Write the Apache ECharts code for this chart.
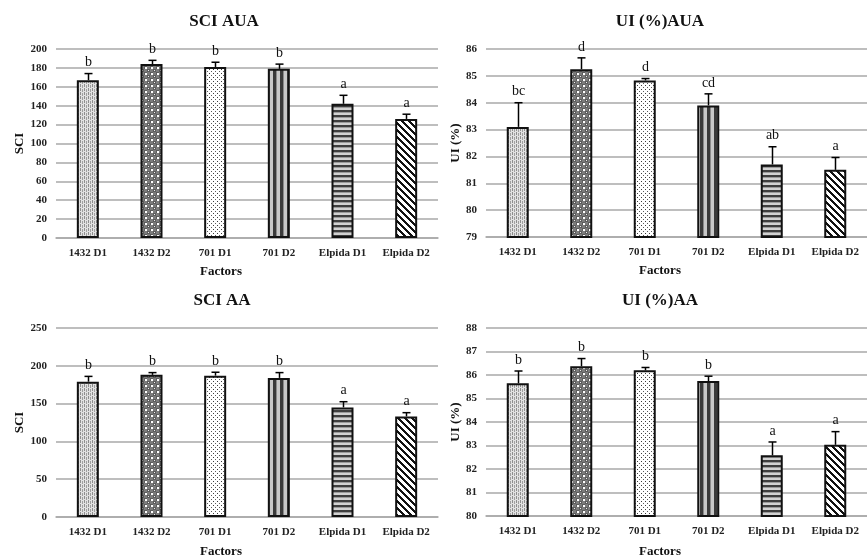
<!DOCTYPE html>
<html>
<head>
<meta charset="utf-8">
<script src="https://cdn.jsdelivr.net/npm/echarts@6/dist/echarts.min.js"></script>
<style>
  html, body { margin: 0; padding: 0; background: #fff; }
  #chart { width: 867px; height: 555px; }
</style>
</head>
<body>
<div id="chart"></div>
<script>
// Treatments (cultivar x dose)
const categories = ['1432 D1', '1432 D2', '701 D1', '701 D2', 'Elpida D1', 'Elpida D2'];

// SCI, AUA
const sciAuaMean = [167, 184, 181, 179, 142, 126];
const sciAuaErr  = [7, 4, 5, 5, 9, 5];
const sciAuaSig  = ['b', 'b', 'b', 'b', 'a', 'a'];

// UI (%), AUA
const uiAuaMean = [83.1, 85.25, 84.83, 83.9, 81.7, 81.5];
const uiAuaErr  = [0.9, 0.42, 0.07, 0.43, 0.66, 0.46];
const uiAuaSig  = ['bc', 'd', 'd', 'cd', 'ab', 'a'];

// SCI, AA
const sciAaMean = [179, 188, 187, 184, 145, 133];
const sciAaErr  = [7, 3, 4.5, 7, 7.5, 5];
const sciAaSig  = ['b', 'b', 'b', 'b', 'a', 'a'];

// UI (%), AA
const uiAaMean = [85.65, 86.37, 86.2, 85.74, 82.58, 83.03];
const uiAaErr  = [0.52, 0.33, 0.12, 0.21, 0.57, 0.56];
const uiAaSig  = ['b', 'b', 'b', 'b', 'a', 'a'];

const SERIF = '"Liberation Serif", "Times New Roman", serif';
const GRID_GRAY = '#a9a9a9';

// Small repeating canvas tiles used as bar fills
function tile(w, h, draw) {
  const c = document.createElement('canvas');
  c.width = w; c.height = h;
  const g = c.getContext('2d');
  draw(g, w, h);
  return { image: c, repeat: 'repeat' };
}
function px(g, color, x, y, w, h) { g.fillStyle = color; g.fillRect(x, y, w || 1, h || 1); }

const fills = [
  // fine vertical dashes on light grey
  tile(4, 4, g => {
    px(g, '#e2e2e2', 0, 0, 4, 4);
    px(g, '#8e8e8e', 0, 0, 1, 3);
    px(g, '#a0a0a0', 2, 1, 1, 3);
  }),
  // dark grey with white dots
  tile(6, 6, g => {
    px(g, '#5c5c5c', 0, 0, 6, 6);
    px(g, '#7c7c7c', 0, 3, 3, 3);
    px(g, '#7c7c7c', 3, 0, 3, 3);
    px(g, '#ffffff', 1, 1, 2, 2);
    px(g, '#f0f0f0', 4, 4, 1, 1);
  }),
  // small black dots on white
  tile(4, 4, g => {
    px(g, '#ffffff', 0, 0, 4, 4);
    px(g, '#3a3a3a', 1, 1);
    px(g, '#5a5a5a', 3, 3);
  }),
  // wide vertical stripes
  tile(7, 2, g => {
    px(g, '#c8c8c8', 0, 0, 7, 2);
    px(g, '#3a3a3a', 0, 0, 3, 2);
    px(g, '#8a8a8a', 3, 0, 1, 2);
  }),
  // horizontal stripes
  tile(2, 5, g => {
    px(g, '#d2d2d2', 0, 0, 2, 5);
    px(g, '#3e3e3e', 0, 0, 2, 2);
    px(g, '#9a9a9a', 0, 2, 2, 1);
  }),
  // diagonal black stripes
  tile(7, 7, g => {
    px(g, '#ffffff', 0, 0, 7, 7);
    for (let y = 0; y < 7; y++) {
      for (let x = 0; x < 7; x++) {
        if (((x - y) % 7 + 7) % 7 < 3) px(g, '#111111', x, y);
      }
    }
  })
];

// Panel layout: grid boxes in pixels
const panels = [
  { left: 56,  top: 49,  width: 382, height: 189, min: 0,  max: 200, interval: 20, yName: 'SCI',    nameGap: 30,
    mean: sciAuaMean, err: sciAuaErr, sig: sciAuaSig, title: 'SCI AUA',  tx: 224, ty: 13, fx: 221, fy: 265 },
  { left: 486, top: 49,  width: 387, height: 188, min: 79, max: 86,  interval: 1,  yName: 'UI (%)', nameGap: 24,
    mean: uiAuaMean,  err: uiAuaErr,  sig: uiAuaSig,  title: 'UI (%)AUA', tx: 660, ty: 13, fx: 660, fy: 264 },
  { left: 56,  top: 328, width: 382, height: 189, min: 0,  max: 250, interval: 50, yName: 'SCI',    nameGap: 30,
    mean: sciAaMean,  err: sciAaErr,  sig: sciAaSig,  title: 'SCI AA',   tx: 222, ty: 292, fx: 221, fy: 545 },
  { left: 486, top: 328, width: 387, height: 188, min: 80, max: 88,  interval: 1,  yName: 'UI (%)', nameGap: 24,
    mean: uiAaMean,   err: uiAaErr,   sig: uiAaSig,   title: 'UI (%)AA',  tx: 660, ty: 292, fx: 660, fy: 545 }
];

const grid = [], xAxis = [], yAxis = [], series = [], title = [];

panels.forEach((p, i) => {
  grid.push({ left: p.left, top: p.top, width: p.width, height: p.height, containLabel: false });

  xAxis.push({
    type: 'category', gridIndex: i, data: categories,
    axisTick: { show: false },
    axisLine: { lineStyle: { color: GRID_GRAY, width: 1.5 } },
    axisLabel: { margin: 10, fontFamily: SERIF, fontWeight: 'bold', fontSize: 11, color: '#222', interval: 0 }
  });

  yAxis.push({
    type: 'value', gridIndex: i, min: p.min, max: p.max, interval: p.interval,
    name: p.yName, nameLocation: 'middle', nameGap: p.nameGap,
    nameTextStyle: { fontFamily: SERIF, fontWeight: 'bold', fontSize: 13, color: '#111' },
    axisLine: { show: false }, axisTick: { show: false },
    axisLabel: { margin: 9, fontFamily: SERIF, fontWeight: 'bold', fontSize: 11, color: '#222' },
    splitLine: { lineStyle: { color: GRID_GRAY, width: 1.5 } }
  });

  series.push({
    type: 'bar', xAxisIndex: i, yAxisIndex: i, barWidth: 22,
    data: p.mean.map((v, k) => ({
      value: v,
      itemStyle: { color: fills[k], borderColor: '#111', borderWidth: 2 }
    })),
    silent: true
  });

  // upper error whisker with cap, plus the significance letter above it
  series.push({
    type: 'custom', xAxisIndex: i, yAxisIndex: i, z: 5, silent: true,
    data: p.mean.map((m, k) => [k, m, m + p.err[k]]),
    renderItem(params, api) {
      const base = api.coord([api.value(0), api.value(1)]);
      const top = api.coord([api.value(0), api.value(2)]);
      const x = Math.round(base[0]) + 0.5;
      return {
        type: 'group',
        children: [
          { type: 'line', shape: { x1: x, y1: base[1], x2: x, y2: top[1] },
            style: { stroke: '#000', lineWidth: 1.5 } },
          { type: 'line', shape: { x1: x - 4, y1: top[1], x2: x + 4, y2: top[1] },
            style: { stroke: '#000', lineWidth: 1.5 } },
          { type: 'text', x: x, y: top[1] - 4,
            style: { text: p.sig[params.dataIndex], fill: '#111',
                     font: '14px ' + SERIF, align: 'center', verticalAlign: 'bottom' } }
        ]
      };
    }
  });

  title.push({
    text: p.title, left: p.tx, top: p.ty, textAlign: 'center', padding: 0,
    textStyle: { fontFamily: SERIF, fontWeight: 'bold', fontSize: 17, color: '#111' }
  });
  title.push({
    text: 'Factors', left: p.fx, top: p.fy, textAlign: 'center', padding: 0,
    textStyle: { fontFamily: SERIF, fontWeight: 'bold', fontSize: 13, color: '#111' }
  });
});

const chart = echarts.init(document.getElementById('chart'), null, { renderer: 'canvas' });
chart.setOption({
  backgroundColor: '#ffffff',
  animation: false,
  title, grid, xAxis, yAxis, series
});
</script>
</body>
</html>
